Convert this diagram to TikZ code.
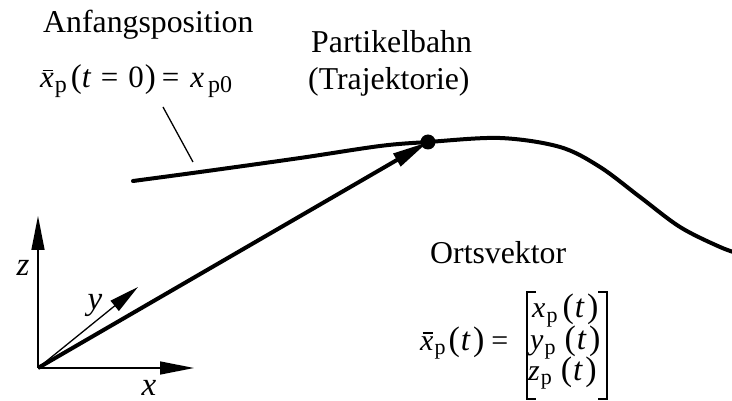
\documentclass[tikz,border=0pt]{standalone}
\usepackage{fontspec}
\setmainfont{Liberation Serif}
\usetikzlibrary{arrows.meta}
\newcommand\subp[2][23]{\raisebox{-5pt}{\fontsize{#1}{#1}\selectfont #2}}
\newcommand\xb[1][16.5pt]{\makebox[0pt][l]{\hspace{2.5pt}\rule[#1]{10.5pt}{1.3pt}}\textit{x}}
\newcommand\lpar[1][34]{{\fontsize{#1}{#1}\selectfont(}}
\newcommand\rpar[1][34]{{\fontsize{#1}{#1}\selectfont)}}
\newcommand\tvar[1][33]{{\fontsize{#1}{#1}\selectfont\itshape t}}
\tikzset{
  txt/.style={inner sep=0pt, anchor=base west, font=\fontsize{31.8}{37}\selectfont},
  eqtxt/.style={inner sep=0pt, anchor=base west, font=\fontsize{31}{31}\selectfont},
  mtxt/.style={inner sep=0pt, anchor=base west, font=\fontsize{30}{30}\selectfont},
  lbl/.style={inner sep=0pt, anchor=base, font=\fontsize{33}{33}\selectfont\itshape},
  axis/.style={line width=1.6pt, -{Triangle[length=34pt,width=13pt]}},
  yaxis/.style={line width=1.3pt, -{Triangle[length=30pt,width=13pt]}},
  vec/.style={line width=4pt, -{Triangle[length=36pt,width=14pt]}},
  path/.style={line width=4pt, line cap=round},
  thin/.style={line width=1.3pt},
  brk/.style={line width=1.6pt}
}
\begin{document}
\begin{tikzpicture}[x=1pt,y=-1pt]
\useasboundingbox (0,0) rectangle (732,401);
\begin{scope}
\clip (0,0) rectangle (732,401);
\draw[path] plot[smooth, tension=0.55] coordinates {(133,181) (200,172) (300,158) (380,146) (428,142) (500,138) (560,147) (600,167) (640,197) (680,227) (720,247) (740,254)};
\end{scope}
\node[txt] (anf) at (43,33) {Anfangsposition};
\node[eqtxt] (eq1) at (40,88) {\xb[17pt]\hspace{1pt}\subp[24]{p}\hspace{4pt}\lpar[33]\tvar[32]\hspace{10pt}=\hspace{10pt}0\hspace{1pt}\rpar[33]\hspace{6pt}=\hspace{11pt}\textit{x}\hspace{4pt}\subp[24]{p0}};
\coordinate (l1) at (163,107);
\coordinate (l2) at (193,162);
\draw[thin] (l1) -- (l2);
\node[txt] (pb) at (311,53) {Partikelbahn};
\node[txt] (tr) at (308,90) {(Trajektorie)};
\node[circle, fill, inner sep=0pt, minimum size=15pt] (p) at (428,142) {};
\coordinate (o) at (38,368);
\coordinate (zt) at (38,216);
\coordinate (xt) at (194,368);
\coordinate (yt) at (138,287);
\draw[axis] (o) -- (zt);
\draw[axis] (o) -- (xt);
\draw[yaxis] (o) -- (yt);
\draw[vec] (o) -- (p.center);
\node[lbl] (zl) at (23,276) {z};
\node[lbl] (yl) at (95,309) {y};
\node[lbl] (xl) at (149,395) {x};
\node[txt] (ov) at (430,264) {Ortsvektor};
\node[mtxt] (eq2) at (420,350) {\xb\hspace{1pt}\subp[22]{p}\hspace{3pt}\lpar\hspace{1pt}\tvar\hspace{3pt}\rpar\hspace{7pt}=};
\node[mtxt] (r1) at (532,318) {\textit{x}\hspace{1pt}\subp[22]{p}\hspace{5pt}\lpar\hspace{1pt}\tvar\hspace{3pt}\rpar};
\node[mtxt] (r2) at (530,349) {\textit{y}\hspace{1pt}\subp[22]{p}\hspace{9pt}\lpar\hspace{1pt}\tvar\hspace{3pt}\rpar};
\node[mtxt] (r3) at (528,380) {\textit{z}\hspace{1pt}\subp[22]{p}\hspace{9pt}\lpar\hspace{1pt}\tvar\hspace{3pt}\rpar};
\draw[brk] (536,292) -- (527,292) -- (527,399) -- (536,399);
\draw[brk] (598,292) -- (607,292) -- (607,399) -- (598,399);
\end{tikzpicture}
\end{document}
